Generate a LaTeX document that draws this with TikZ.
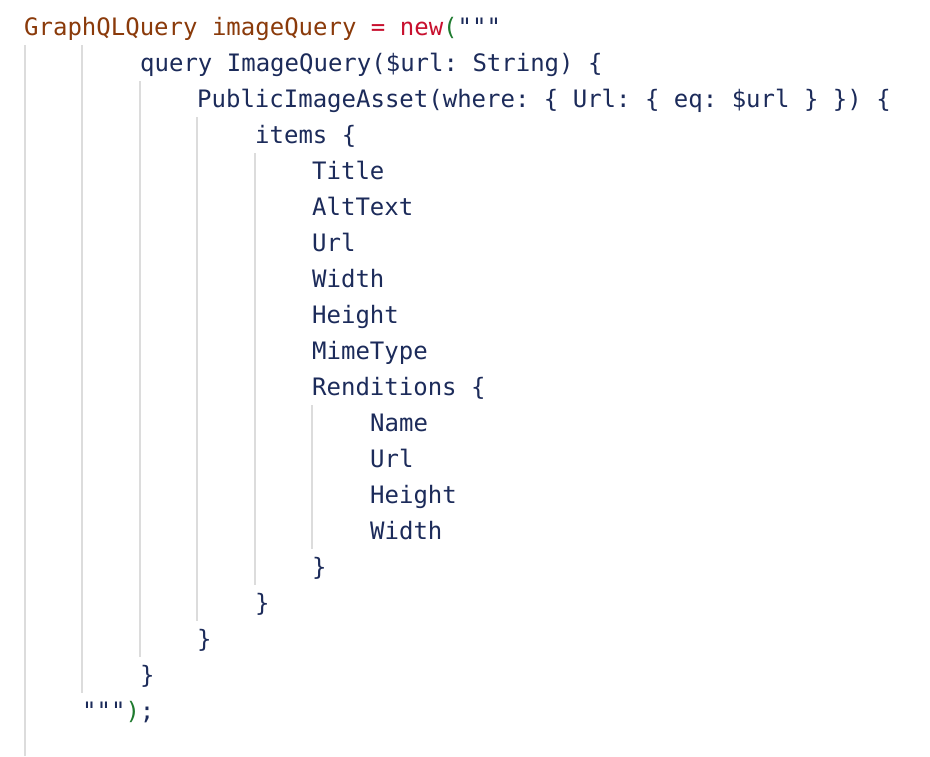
\documentclass[tikz,border=0pt]{standalone}
\usepackage{fontspec}
\setmonofont{DejaVu Sans Mono}
\definecolor{codetype}{HTML}{8A3A0A}
\definecolor{codekw}{HTML}{C8102E}
\definecolor{codeparen}{HTML}{1E7A2E}
\definecolor{codetext}{HTML}{1C2B5A}
\definecolor{codeguide}{HTML}{DCDCDC}
\tikzset{
  codeline/.style={anchor=base west, inner sep=0pt, text=codetext,
    font=\fontsize{24}{28}\selectfont\ttfamily},
  guide/.style={codeguide, line width=1.2pt}
}
\begin{document}
\begin{tikzpicture}[x=1pt,y=-1pt]
  \useasboundingbox[fill=white] (0,0) rectangle (930,756);
  % Hilfslinien der Einrueckung
  \draw[guide] (25,45) -- (25,756);
  \draw[guide] (82,45) -- (82,693);
  \draw[guide] (140,81) -- (140,657);
  \draw[guide] (197,117) -- (197,621);
  \draw[guide] (255,153) -- (255,585);
  \draw[guide] (312,405) -- (312,549);
  % Code
  \node[codeline] (decl) at (24,35)
    {\textcolor{codetype}{GraphQLQuery imageQuery} \textcolor{codekw}{= new}\textcolor{codeparen}{(}"""};
  \node[codeline] (query) at (140,71)  {query ImageQuery(\$url: String) \{};
  \node[codeline] (asset) at (197,107) {PublicImageAsset(where: \{ Url: \{ eq: \$url \} \}) \{};
  \node[codeline] (items) at (255,143) {items \{};
  \node[codeline] (title) at (312,179) {Title};
  \node[codeline] (alt)   at (312,215) {AltText};
  \node[codeline] (url)   at (312,251) {Url};
  \node[codeline] (width) at (312,287) {Width};
  \node[codeline] (height) at (312,323) {Height};
  \node[codeline] (mime)  at (312,359) {MimeType};
  \node[codeline] (rend)  at (312,395) {Renditions \{};
  \node[codeline] (rname) at (370,431) {Name};
  \node[codeline] (rurl)  at (370,467) {Url};
  \node[codeline] (rheight) at (370,503) {Height};
  \node[codeline] (rwidth) at (370,539) {Width};
  \node[codeline] (crend) at (312,575) {\}};
  \node[codeline] (citems) at (255,611) {\}};
  \node[codeline] (casset) at (197,647) {\}};
  \node[codeline] (cquery) at (140,683) {\}};
  \node[codeline] (cdecl) at (82,719) {"""\textcolor{codeparen}{)};};
\end{tikzpicture}
\end{document}
